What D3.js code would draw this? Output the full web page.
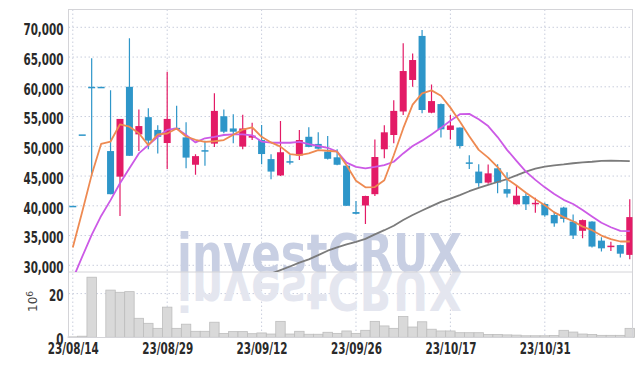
<!DOCTYPE html>
<html>
<head>
<meta charset="utf-8">
<script src="https://cdn.jsdelivr.net/npm/d3@7"></script>
<style>
  body { margin: 0; background: #fff; }
  svg { display: block; }
  .axis text { font-family: "DejaVu Sans Condensed", "DejaVu Sans", sans-serif; font-weight: bold; font-size: 15px; fill: #2a2a2a; }
  .grid line { stroke: #c9cedd; stroke-dasharray: 1.5,2.5; }
</style>
</head>
<body>
<svg id="chart" width="642" height="366"></svg>
<script>
// trading days (23/08/14 .. 23/11/13)
const dates = ["08/14","08/16","08/17","08/18","08/21","08/22","08/23","08/24","08/25","08/28",
  "08/29","08/30","08/31","09/01","09/04","09/05","09/06","09/07","09/08","09/11",
  "09/12","09/13","09/14","09/15","09/18","09/19","09/20","09/21","09/22","09/25",
  "09/26","09/27","10/04","10/05","10/06","10/10","10/11","10/12","10/13","10/16",
  "10/17","10/18","10/19","10/20","10/23","10/24","10/25","10/26","10/27","10/30",
  "10/31","11/01","11/02","11/03","11/06","11/07","11/08","11/09","11/10","11/13"];

const open = [40000,52000,60000,60000,49200,44900,60000,52000,54900,52750,
  50550,53100,51500,46900,49350,50450,55050,53000,49950,51450,
  51050,47850,45100,47500,48450,51600,50400,49100,48150,46750,
  38950,40050,41950,49500,51900,55850,61150,68550,55650,57100,
  52750,53150,47300,45750,43900,46300,42800,40250,41650,40400,
  40300,38450,39700,37350,35800,37350,34150,33150,33400,31750];
const high = [40000,52000,64800,60000,59400,54600,68150,56200,56400,53550,
  62550,56800,54050,48650,50950,58900,56200,55400,55300,53950,
  53600,48650,54250,48550,52750,53200,52350,51750,49500,46800,
  40800,41700,51150,53550,57750,67300,65600,69550,60400,57200,
  55250,53150,48500,47000,46950,47000,45650,43500,42100,41350,
  40500,39000,39850,38550,37700,37400,34700,33950,33450,41100];
const low = [40000,52000,45000,60000,41950,38300,48400,49200,49500,48800,
  46200,52900,46300,45200,46750,49900,52200,50500,49500,51050,
  47000,44450,45000,46950,47700,49850,49500,47800,46800,40000,
  38600,36950,41650,48000,50500,55250,60000,55550,55550,51500,
  51150,49650,46200,43200,43700,42100,41400,40200,39300,38850,
  38150,36500,37200,34400,34550,33000,32300,32400,31300,31000];
const close = [40000,52000,60000,60000,41950,54600,48400,53400,50950,51600,
  54600,53000,48100,48350,49250,55950,52450,52450,53000,51800,
  48700,45750,49000,47350,51050,49900,49600,47900,46900,40000,
  38650,41650,48200,52350,55950,62650,64500,56100,57600,52850,
  53500,50050,47200,43800,45450,43900,42050,41700,40250,40500,
  38400,37050,37800,35000,37600,33150,32850,33300,31950,38100];

// volume, millions of shares
const volume = [0.2,0.5,27.5,0,21.6,20.6,20.9,8.7,6.4,4.1,
  13.8,4.1,6.0,2.75,2.75,6.9,1.7,2.6,2.6,1.65,
  2.0,1.5,7.3,1.5,2.75,1.4,1.4,2.3,1.8,2.9,
  1.8,3.2,7.3,5.2,4.1,9.5,4.7,7.1,3.7,2.9,
  2.9,2.1,2.1,2.1,1.3,1.3,1.1,1.0,0.7,0.7,
  0.7,0.8,3.2,2.4,1.5,1.3,0.9,0.9,0.9,4.1];

// moving averages
const maShort = [33000,39000,45200,50400,50800,53700,53300,52200,50200,52000,
  52150,53000,51650,51100,50750,50850,51050,51950,52800,53200,
  51600,50650,49950,48700,48500,48800,49350,49250,49100,46800,
  44200,43100,43150,44300,48500,53000,57000,58900,59400,58500,
  56500,54150,51700,49400,48100,46500,44500,43400,42200,41100,
  40100,38900,38100,37400,36500,35900,35000,34400,34000,34000];
const maMid = [27700,31450,35100,38300,40950,43800,46300,48800,50200,51600,
  52750,53000,51900,50650,51350,51600,51900,52000,52000,51850,
  50800,50600,50600,50600,50750,50350,50050,49750,49100,47250,
  46550,46300,46550,46850,47400,48800,50050,50950,52000,53100,
  54300,55400,55450,54550,53400,51550,49400,47550,45750,44350,
  43100,42000,41000,40300,39300,38200,37150,36400,35800,35750];
const maLong = [null,null,null,null,null,null,null,null,null,null,
  null,null,null,null,null,null,null,null,null,null,
  null,28600,29200,29800,30450,31000,31700,32450,33000,33500,
  33950,34450,35200,35900,36650,37600,38450,39200,39950,40650,
  41200,41800,42450,43000,43500,44000,44500,45100,45750,46250,
  46600,46800,46950,47150,47300,47400,47550,47600,47550,47500];

const priceTicks = [30000,35000,40000,45000,50000,55000,60000,65000,70000];
const volTicks = [0,20];
const dateTickIdx = [0,10,20,30,40,50];

const left = 68.5, right = 632.5, plotTop = 9.5, priceBottom = 272, volBottom = 337.5;
const upColor = "#e31b66", downColor = "#2e96c9";

const svg = d3.select("#chart");
const idx = d3.range(dates.length);

const x = d3.scaleLinear().domain([-0.455, 59.29]).range([left, right]);
const y = d3.scaleLinear().domain([30000, 70000]).range([265.3, 27.3]);
const yv = d3.scaleLinear().domain([0, 20]).range([337.3, 293.6]);
const step = x(1) - x(0);

svg.append("defs").append("clipPath").attr("id", "clipPrice")
  .append("rect").attr("x", left).attr("y", plotTop).attr("width", right - left).attr("height", priceBottom - plotTop);

// grid
const grid = svg.append("g").attr("class", "grid");
grid.selectAll(".hp").data(priceTicks).enter().append("line")
  .attr("x1", left).attr("x2", right).attr("y1", d => y(d)).attr("y2", d => y(d));
grid.selectAll(".hv").data([20]).enter().append("line")
  .attr("x1", left).attr("x2", right).attr("y1", d => yv(d)).attr("y2", d => yv(d));
grid.selectAll(".vv").data(dateTickIdx).enter().append("line")
  .attr("x1", d => x(d)).attr("x2", d => x(d)).attr("y1", plotTop).attr("y2", volBottom);

// watermark + reflection
const wm = svg.append("g");
wm.append("text").attr("x", 177).attr("y", priceBottom)
  .attr("textLength", 285).attr("lengthAdjust", "spacingAndGlyphs")
  .style("font-family", "DejaVu Sans, sans-serif").style("font-weight", "bold")
  .style("font-size", "53px").style("fill", "#c8cfe3").text("investCRUX");
wm.append("text").attr("x", 177).attr("y", priceBottom)
  .attr("transform", `translate(0,${2 * priceBottom}) scale(1,-1)`)
  .attr("textLength", 285).attr("lengthAdjust", "spacingAndGlyphs")
  .style("font-family", "DejaVu Sans, sans-serif").style("font-weight", "bold")
  .style("font-size", "53px").style("fill", "#e4e6ef").text("investCRUX");

// volume bars
svg.append("g").selectAll("rect").data(idx).enter().append("rect")
  .attr("x", i => x(i) - step / 2).attr("width", step)
  .attr("y", i => yv(volume[i])).attr("height", i => yv(0) - yv(volume[i]))
  .attr("fill", "#d9d9d9").attr("stroke", "#bdbdbd").attr("stroke-width", 0.8);

// frame
svg.append("rect").attr("x", left).attr("y", plotTop).attr("width", right - left).attr("height", volBottom - plotTop)
  .attr("fill", "none").attr("stroke", "#d4d4d8");
svg.append("line").attr("x1", left).attr("x2", right).attr("y1", priceBottom).attr("y2", priceBottom)
  .attr("stroke", "#d4d4d8");

// candles
const plot = svg.append("g").attr("clip-path", "url(#clipPrice)");
const candle = plot.selectAll(".candle").data(idx).enter().append("g");
candle.append("line")
  .attr("x1", i => x(i)).attr("x2", i => x(i))
  .attr("y1", i => y(high[i])).attr("y2", i => y(low[i]))
  .attr("stroke", i => close[i] > open[i] ? upColor : downColor).attr("stroke-width", 1.2);
candle.append("rect")
  .attr("x", i => x(i) - 3.5).attr("width", 7)
  .attr("y", i => y(Math.max(open[i], close[i])))
  .attr("height", i => Math.max(1.5, Math.abs(y(open[i]) - y(close[i]))))
  .attr("fill", i => close[i] > open[i] ? upColor : downColor);

// moving averages
function maLine(data, color) {
  plot.append("path").datum(idx)
    .attr("fill", "none").attr("stroke", color).attr("stroke-width", 1.8)
    .attr("stroke-linejoin", "round")
    .attr("d", d3.line().defined(i => data[i] != null).x(i => x(i)).y(i => y(data[i])));
}
maLine(maLong, "#7b7b7b");
maLine(maMid, "#cc5ae6");
maLine(maShort, "#ee8a52");

// axes
const yAxis = svg.append("g").attr("class", "axis").attr("transform", `translate(${left - 5},0)`)
  .call(d3.axisLeft(y).tickValues(priceTicks).tickFormat(d3.format(",")).tickSize(0).tickPadding(0));
yAxis.selectAll("text").attr("dy", "0.48em");
const vAxis = svg.append("g").attr("class", "axis").attr("transform", `translate(${left - 5},0)`)
  .call(d3.axisLeft(yv).tickValues(volTicks).tickSize(0).tickPadding(0));
vAxis.selectAll("text").attr("dy", "0.48em");
const xAxis = svg.append("g").attr("class", "axis").attr("transform", `translate(0,${volBottom})`)
  .call(d3.axisBottom(x).tickValues(dateTickIdx).tickFormat(i => "23/" + dates[i]).tickSize(0).tickPadding(6));
[yAxis, vAxis, xAxis].forEach(a => a.select(".domain").remove());
// squeeze tick labels to the narrow face of the original
svg.selectAll(".axis text").each(function () {
  const w = this.getComputedTextLength();
  d3.select(this).attr("textLength", w * 0.77).attr("lengthAdjust", "spacingAndGlyphs");
});

// volume unit label
const unit = svg.append("text").attr("transform", "translate(37,312) rotate(-90)")
  .style("font-family", "DejaVu Sans, sans-serif").style("font-size", "12px").style("fill", "#444");
unit.append("tspan").text("10");
unit.append("tspan").attr("dy", -4).style("font-size", "9px").text("6");
</script>
</body>
</html>
